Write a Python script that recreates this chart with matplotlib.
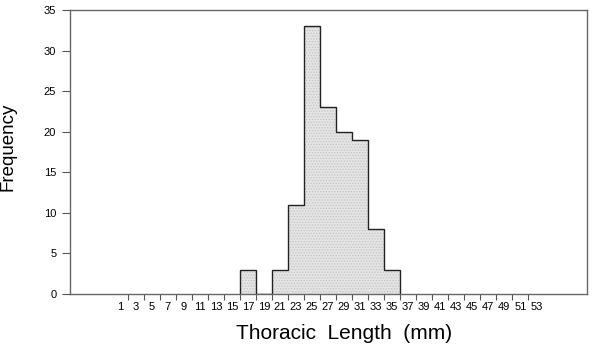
import matplotlib.pyplot as plt
import numpy as np

plt.rcParams['font.family'] = ['Liberation Sans', 'DejaVu Sans']
plt.rcParams['hatch.color'] = '#c4c4c4'
plt.rcParams['hatch.linewidth'] = 0.6

# histogram bins (left edges, width 2 mm) and counts
bin_left = [16, 18, 20, 22, 24, 26, 28, 30, 32, 34]
counts = [3, 0, 3, 11, 33, 23, 20, 19, 8, 3]
bin_width = 2

tick_edges = list(range(2, 54, 2))
label_pos = list(range(1, 54, 2))
y_ticks = [0, 5, 10, 15, 20, 25, 30, 35]

fig = plt.figure(figsize=(6, 3.49), dpi=100)
ax = fig.add_axes([0.117, 0.158, 0.861, 0.813])

edges = np.array(bin_left + [bin_left[-1] + bin_width])
# light stippled fill, then a stepped outline on top
ax.stairs(counts, edges, fill=True, color='#e4e4e4', hatch='......', zorder=1)
ax.stairs(counts, edges, color='#222222', lw=1.0, zorder=2)

ax.set_xlim(-5.2, 59.3)
ax.set_ylim(0, 35)

ax.set_xticks(tick_edges)
ax.set_xticklabels([])
ax.set_xticks(label_pos, minor=True)
ax.set_xticklabels([str(v) for v in label_pos], minor=True, fontsize=8)
ax.tick_params(axis='x', which='major', direction='out', length=4, width=0.8, color='#555555')
ax.tick_params(axis='x', which='minor', length=0, pad=6)

ax.set_yticks(y_ticks)
ax.set_yticklabels([str(v) for v in y_ticks], fontsize=8)
ax.tick_params(axis='y', direction='out', length=6, width=0.8, color='#555555', pad=4)

for s in ax.spines.values():
    s.set_color('#666666')
    s.set_linewidth(1.0)

ax.set_ylabel('Frequency', fontsize=13.5)
ax.yaxis.set_label_coords(-0.103, 0.52)
ax.set_xlabel('Thoracic  Length  (mm)', fontsize=15)
ax.xaxis.set_label_coords(0.53, -0.105)

fig.savefig('out.png', dpi=100)
